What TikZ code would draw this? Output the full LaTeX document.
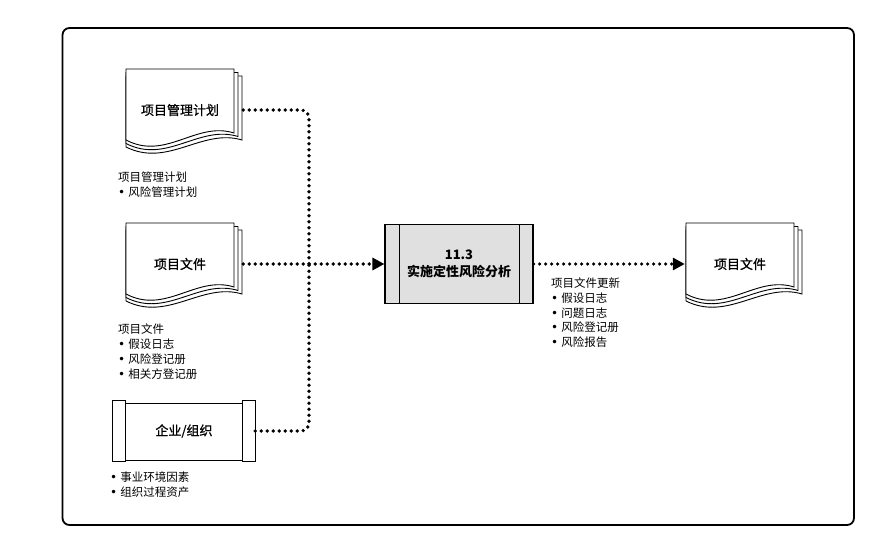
\documentclass[tikz,border=0pt]{standalone}
\usepackage{fontspec}
\setmainfont{Noto Sans CJK SC}
\newfontfamily\docfont{Noto Sans CJK SC}[BoldFont={Noto Sans CJK SC}, BoldFeatures={FakeBold=0.9}]
\newfontfamily\bulletfont{DejaVu Sans}
\newcommand\bul{{\bulletfont\fontsize{12}{12}\selectfont •}\hspace{3pt}}
\usetikzlibrary{arrows.meta}
\tikzset{
    frame/.style={line width=1.8pt, rounded corners=7pt},
    sheet/.style={draw, fill=white, line width=0.9pt},
    docbox/.style={minimum width=108pt, minimum height=82pt, inner sep=0pt, font=\docfont\bfseries\fontsize{13}{16}\selectfont},
    boxline/.style={line width=1.1pt},
    entbox/.style={minimum width=142pt, minimum height=60pt, inner sep=0pt, font=\docfont\bfseries\fontsize{13}{16}\selectfont},
    procbox/.style={draw, boxline, fill=black!12, minimum width=148pt, minimum height=79pt, inner sep=0pt, align=center, font=\fontsize{13}{17}\selectfont\bfseries},
    flow/.style={line width=3.6pt, dash pattern=on 0pt off 6pt, line cap=round, rounded corners=8pt},
    tip/.style={-{Triangle[length=12pt,width=12pt]}},
    note/.style={anchor=north west, inner sep=0pt, align=left, font=\fontsize{11.5}{15}\selectfont}
}
\newcommand\docnode[3]{%
    \begin{scope}[shift={#2}]
        \foreach \i in {2,1,0} {
            \draw[sheet] (-54,{-41+3.5*\i}) -- ({54+4*\i},{-41+3.5*\i}) -- ({54+4*\i},{23+3.5*\i})
                .. controls ({16+3*\i},{11+3.5*\i}) and ({-14+\i},{51+3.5*\i}) .. (-54,{30+3.5*\i}) -- cycle;
        }
        \node[docbox] (#1) at (0,0) {#3};
    \end{scope}}
\begin{document}
\begin{tikzpicture}[x=1pt, y=-1pt]
    \useasboundingbox (0,0) rectangle (896,548);
    \draw[frame] (62.5,28) rectangle (854,525);

    \docnode{pmp}{(180,110)}{项目管理计划}
    \docnode{pdocs}{(180,264)}{项目文件}
    \docnode{pdocsout}{(740,264)}{项目文件}

    \node[entbox] (ent) at (184,431) {企业/组织};
    \draw[boxline] (ent.north west) rectangle ([xshift=13pt]ent.south west);
    \draw[boxline] (ent.north east) rectangle ([xshift=-13pt]ent.south east);
    \draw[boxline] ([xshift=13pt,yshift=-3pt]ent.north west) rectangle ([xshift=-13pt,yshift=1pt]ent.south east);

    \node[procbox] (qra) at (459,264) {11.3\\实施定性风险分析};
    \draw[boxline] ([xshift=15pt]qra.north west) -- ([xshift=15pt]qra.south west);
    \draw[boxline] ([xshift=-14pt]qra.north east) -- ([xshift=-14pt]qra.south east);

    \node[note] (pmpnote) at (118,172) {项目管理计划\\\bul 风险管理计划};
    \node[note] (pdocsnote) at (118,324) {项目文件\\\bul 假设日志\\\bul 风险登记册\\\bul 相关方登记册};
    \node[note, font=\fontsize{11.5}{14.2}\selectfont] (entnote) at (110,472) {\bul 事业环境因素\\\bul 组织过程资产};
    \node[note, font=\fontsize{11.5}{14.6}\selectfont] (outnote) at (551,278) {项目文件更新\\\bul 假设日志\\\bul 问题日志\\\bul 风险登记册\\\bul 风险报告};

    \coordinate (jn) at (309,264);
    \draw[flow] ([xshift=9pt]pmp.east) -| (jn);
    \draw[flow] (ent.east) -| (jn);
    \draw[flow, tip] ([xshift=9pt]pdocs.east) -- (qra.west);
    \draw[flow, tip] (qra.east) -- ([xshift=-1pt]pdocsout.west);
\end{tikzpicture}
\end{document}
